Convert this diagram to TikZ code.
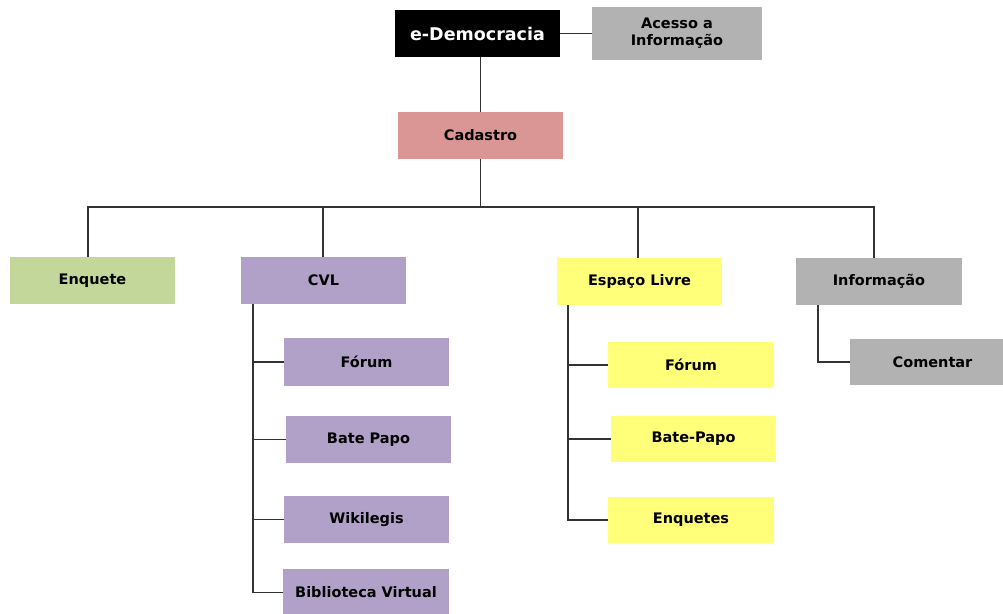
\documentclass[tikz,border=0pt]{standalone}
\usepackage{fontspec}
\setmainfont{DejaVu Sans}
\definecolor{cgray}{HTML}{B2B2B2}
\definecolor{cpink}{HTML}{DA9694}
\definecolor{cgreen}{HTML}{C4D79B}
\definecolor{cpurple}{HTML}{B1A0C7}
\definecolor{cyellow}{HTML}{FFFF79}
\definecolor{cline}{HTML}{333333}
\begin{document}
\begin{tikzpicture}[x=1pt,y=-1pt,
  box/.style={draw=none,minimum width=165pt,minimum height=47pt,inner sep=0pt,
    font=\fontsize{14.5}{16}\selectfont\bfseries,align=center,text=black},
  conn/.style={draw=cline,line width=1.4pt}]
\useasboundingbox (0,0) rectangle (1003,613);
% top
\node[box,fill=black,text=white,font=\fontsize{17.5}{19}\selectfont\bfseries] (edemo) at (477.5,33.5) {e-Democracia};
\node[box,fill=cgray,minimum width=170pt,minimum height=53pt,font=\fontsize{14.5}{17}\selectfont\bfseries] (acesso) at (677,33.5) {Acesso a\\Informação};
\node[box,fill=cpink] (cad) at (480.5,135.5) {Cadastro};
% level 2
\node[box,fill=cgreen] (enq) at (92.5,280.5) {Enquete};
\node[box,fill=cpurple] (cvl) at (323.5,280.5) {CVL};
\node[box,fill=cyellow] (esp) at (639.5,281.5) {Espaço Livre};
\node[box,fill=cgray,minimum width=166pt] (info) at (879,281.5) {Informação};
% CVL children
\node[box,fill=cpurple,minimum height=48pt] (f1) at (366.5,362) {Fórum};
\node[box,fill=cpurple] (bp1) at (368.5,439.5) {Bate Papo};
\node[box,fill=cpurple] (wk) at (366.5,519.5) {Wikilegis};
\node[box,fill=cpurple,minimum width=166pt] (bib) at (366,592.5) {Biblioteca Virtual};
% Espaco children
\node[box,fill=cyellow,minimum width=166pt,minimum height=46pt] (f2) at (691,365) {Fórum};
\node[box,fill=cyellow,minimum height=46pt] (bp2) at (693.5,439) {Bate-Papo};
\node[box,fill=cyellow,minimum width=166pt,minimum height=46pt] (enqs) at (691,520) {Enquetes};
% Informacao child
\node[box,fill=cgray,minimum height=46pt] (com) at (932.5,362) {Comentar};
% connectors
\draw[conn] (edemo.east) -- (acesso.west);
\draw[conn] (edemo.south -| cad.north) -- (cad.north);
\coordinate (bus) at (480.5,207);
\draw[conn] (cad.south) -- (bus);
\draw[conn] (bus) -| ([xshift=-4.5pt]enq.north);
\draw[conn] (bus) -| ([xshift=-0.5pt]cvl.north);
\draw[conn] (bus) -| ([xshift=-1.5pt]esp.north);
\draw[conn] (bus) -| ([xshift=-5pt]info.north);
\draw[conn] ([xshift=12pt]cvl.south west) |- (f1.west);
\draw[conn] ([xshift=12pt]cvl.south west) |- (bp1.west);
\draw[conn] ([xshift=12pt]cvl.south west) |- (wk.west);
\draw[conn] ([xshift=12pt]cvl.south west) |- (bib.west);
\draw[conn] ([xshift=11pt]esp.south west) |- (f2.west);
\draw[conn] ([xshift=11pt]esp.south west) |- (bp2.west);
\draw[conn] ([xshift=11pt]esp.south west) |- (enqs.west);
\draw[conn] ([xshift=22pt]info.south west) |- (com.west);
\end{tikzpicture}
\end{document}
